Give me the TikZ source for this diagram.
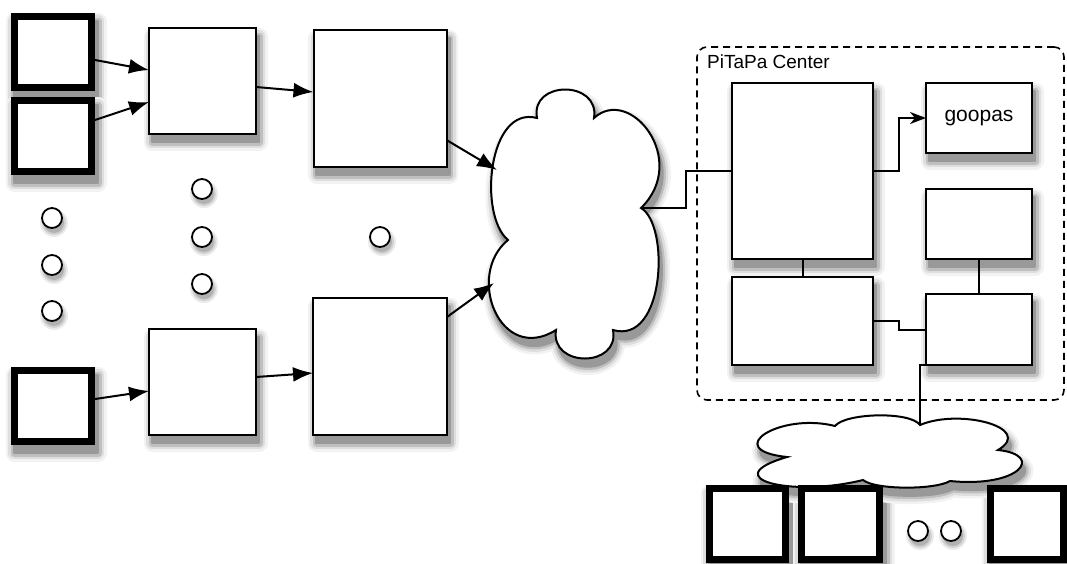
\documentclass[tikz,border=0pt]{standalone}
\usepackage{fontspec}
\newfontfamily\labfont{Liberation Sans}
\usetikzlibrary{arrows.meta,backgrounds}

% soft drop shadow: the same outline stroked in several greys, widest and lightest first
\newcommand\softshadow[1]{%
  \path[draw=black!5,fill=black!5,line width=17pt,line join=round] #1;
  \path[draw=black!13,fill=black!13,line width=12pt,line join=round] #1;
  \path[draw=black!25,fill=black!25,line width=7pt,line join=round] #1;
  \path[draw=black!40,fill=black!40,line width=2.5pt,line join=round] #1;}
\newcommand\nodeshadow[1]{%
  \softshadow{([xshift=3pt,yshift=-8pt]#1.north west) rectangle ([xshift=3pt,yshift=-8pt]#1.south east)}}
\newcommand\dotshadow[1]{%
  \path[fill=black!8] ([xshift=2pt,yshift=-5pt]#1.center) circle (14pt);
  \path[fill=black!18] ([xshift=2pt,yshift=-5pt]#1.center) circle (12pt);
  \path[fill=black!30] ([xshift=2pt,yshift=-5pt]#1.center) circle (10pt);}

\tikzset{
  box/.style={draw,line width=2pt,fill=white,inner sep=0pt,outer sep=0pt},
  thickbox/.style={draw,line width=7pt,fill=white,inner sep=0pt,outer sep=3.5pt},
  dot/.style={circle,draw,line width=1.8pt,fill=white,minimum size=20pt,inner sep=0pt},
  cloudline/.style={draw,line width=2pt,fill=white},
  link/.style={line width=2pt},
  arr/.style={link,-{Latex[length=20pt,width=15pt,fill=black]}},
  openarr/.style={link,-{Stealth[length=16pt,width=12pt,inset=5pt,fill=black]}},
  frame/.style={draw,line width=1.6pt,dash pattern=on 7pt off 5pt,rounded corners=10pt,inner sep=0pt,outer sep=0pt},
}

% cloud outlines
\def\bigcloud{(508,240) .. controls (478,215) and (488,105) .. (537,118)
  .. controls (530,80) and (600,80) .. (594,118)
  .. controls (630,85) and (690,160) .. (641,208)
  .. controls (670,225) and (665,345) .. (613,330)
  .. controls (620,368) and (550,368) .. (556,330)
  .. controls (500,365) and (465,275) .. (508,240) -- cycle}
\def\smallcloud{(787,457) .. controls (720,450) and (780,412) .. (835,426)
  .. controls (845,413) and (910,411) .. (920,425)
  .. controls (960,408) and (1035,428) .. (998,450)
  .. controls (1045,455) and (1020,488) .. (950,481)
  .. controls (935,490) and (875,490) .. (863,480)
  .. controls (790,498) and (715,478) .. (787,457) -- cycle}

\begin{document}
\begin{tikzpicture}[x=1pt,y=-1pt]
\useasboundingbox (0,0) rectangle (1067,563);

% PiTaPa center frame
\node[frame,minimum width=367pt,minimum height=353pt] (center) at (880.5,223.5) {};
\node[anchor=base west,inner sep=0pt] (title) at (707,68) {\labfont\fontsize{19}{19}\selectfont PiTaPa Center};

% left terminals
\node[thickbox,minimum width=77pt,minimum height=71pt] (t1) at (53,52) {};
\node[thickbox,minimum width=77pt,minimum height=71pt] (t2) at (53,136) {};
\node[thickbox,minimum width=77pt,minimum height=71pt] (t3) at (53,406) {};

% intermediate boxes
\node[box,minimum width=107pt,minimum height=106pt] (m1) at (202.5,81) {};
\node[box,minimum width=107pt,minimum height=106pt] (m2) at (202.5,382) {};
\node[box,minimum width=133pt,minimum height=137pt] (L1) at (380,98.5) {};
\node[box,minimum width=134pt,minimum height=137pt] (L2) at (380,366.5) {};

% ellipsis dots
\node[dot] (d1) at (52,218) {};
\node[dot] (d2) at (52,265) {};
\node[dot] (d3) at (52,311) {};
\node[dot] (d4) at (202,189) {};
\node[dot] (d5) at (202,237) {};
\node[dot] (d6) at (202,284) {};
\node[dot] (d7) at (380,237) {};

% network cloud
\begin{scope}[shift={(3,8)}]
  \softshadow{\bigcloud}
\end{scope}
\path[cloudline] \bigcloud;
\coordinate (cin1) at (497,170);
\coordinate (cin2) at (494,283);
\coordinate (cout) at (641,208);

% center boxes
\node[box,minimum width=141pt,minimum height=176pt] (C) at (802.5,171) {};
\node[box,minimum width=106pt,minimum height=70pt] (G) at (979,118) {\labfont\fontsize{21}{21}\selectfont goopas};
\node[box,minimum width=106pt,minimum height=70pt] (rm) at (979,224) {};
\node[box,minimum width=141pt,minimum height=88pt] (ll) at (802.5,321) {};
\node[box,minimum width=106pt,minimum height=71pt] (lr) at (979,329.5) {};

% lower cloud
\begin{scope}[shift={(3,8)}]
  \softshadow{\smallcloud}
\end{scope}
\path[cloudline] \smallcloud;
\coordinate (c2top) at (920,425);

% bottom terminals
\node[thickbox,minimum width=76pt,minimum height=71pt] (b1) at (747.5,524) {};
\node[thickbox,minimum width=78pt,minimum height=71pt] (b2) at (840.5,524) {};
\node[thickbox,minimum width=73pt,minimum height=71pt] (b3) at (1027,524) {};
\node[dot] (d8) at (918,531) {};
\node[dot] (d9) at (951,531) {};

% shadows behind the boxes and dots
\begin{pgfonlayer}{background}
  \foreach \n in {t1,t2,t3,m1,m2,L1,L2,C,G,rm,ll,lr,b1,b2,b3} {\nodeshadow{\n}}
  \foreach \n in {d1,d2,d3,d4,d5,d6,d7,d8,d9} {\dotshadow{\n}}
\end{pgfonlayer}

% connectors
\draw[arr] ([yshift=-8pt]t1.east) -- ([yshift=11pt]m1.west);
\draw[arr] ([yshift=16pt]t2.east) -- ([yshift=-21pt]m1.west);
\draw[arr] ([yshift=-6pt]m1.east) -- ([yshift=6.5pt]L1.west);
\draw[arr] ([yshift=-41.5pt]L1.east) -- (cin1);
\draw[arr] ([yshift=7pt]t3.east) -- ([yshift=-9pt]m2.west);
\draw[arr] ([yshift=5pt]m2.east) -- ([yshift=-6.5pt]L2.west);
\draw[arr] ([yshift=49.5pt]L2.east) -- (cin2);
\draw[link] (cout) -- ++(45,0) |- (C.west);
\draw[openarr] (C.east) -- ++(26,0) |- (G.west);
\draw[link] (C.south) -- (ll.north);
\draw[link] (rm.south) -- (lr.north);
\draw[link] (ll.east) -- ++(26,0) |- (lr.west);
\draw[link] (lr.south west) -| (c2top);
\end{tikzpicture}
\end{document}
